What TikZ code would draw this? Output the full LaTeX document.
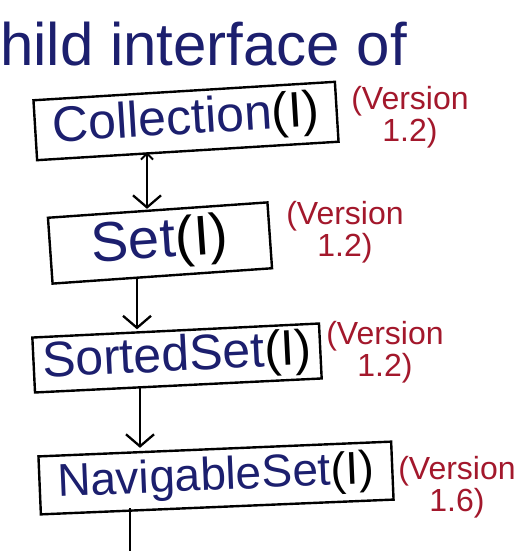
\documentclass[tikz,border=0pt]{standalone}
\usepackage{fontspec}
\setmainfont{Liberation Sans}
\usetikzlibrary{arrows.meta}
\definecolor{ink}{HTML}{1C1F6E}
\definecolor{redink}{HTML}{A3182C}
\begin{document}
\begin{tikzpicture}[x=1pt,y=-1pt,
  ibox/.style={draw=black, line width=2.4pt, inner sep=0pt, text=ink},
  ver/.style={text=redink, align=center, inner sep=0pt, font=\fontsize{32}{32}\selectfont},
  conn/.style={draw=black, line width=2.3pt},
  arr/.style={conn, -{Straight Barb[length=12pt,width=28pt,line width=2.3pt]}},
  darr/.style={conn, {Straight Barb[length=6pt,width=12pt,line width=2pt]}-{Straight Barb[length=12pt,width=28pt,line width=2.3pt]}}]
\useasboundingbox (0,0) rectangle (529,551);
\fill[white] (0,0) rectangle (529,551);

\node[anchor=base west, inner sep=0pt, text=ink, font=\fontsize{60}{64}\selectfont] (title) at (0,66) {hild interface of};

\node[ibox, minimum width=302pt, minimum height=60pt, rotate=3.5, font=\fontsize{50}{54}\selectfont] (coll) at (186,121) {Collection\textcolor{black}{(I)}};
\node[ibox, minimum width=220pt, minimum height=66pt, rotate=4, font=\fontsize{56}{60}\selectfont] (set) at (160,243) {Set\textcolor{black}{(I)}};
\node[ibox, minimum width=287pt, minimum height=55pt, rotate=2.8, font=\fontsize{50}{54}\selectfont] (sorted) at (177,358) {SortedSet\textcolor{black}{(I)}};
\node[ibox, minimum width=353pt, minimum height=58pt, rotate=2.4, font=\fontsize{46}{50}\selectfont] (nav) at (216,478) {NavigableSet\textcolor{black}{(I)}};

\node[ver] (v1) at (410,117) {(Version\\1.2)};
\node[ver] (v2) at (345,232) {(Version\\1.2)};
\node[ver] (v3) at (385,352) {(Version\\1.2)};
\node[ver] (v4) at (457,487) {(Version\\1.6)};

\coordinate (x1) at (147,0);
\coordinate (x2) at (137,0);
\coordinate (x3) at (140,0);
\coordinate (nend) at (130,551);

\draw[darr] (coll.south -| x1) -- (set.north -| x1);
\draw[arr] (set.south -| x2) -- (sorted.north -| x2);
\draw[arr] (sorted.south -| x3) -- (nav.north -| x3);
\draw[conn] (nav.south -| nend) -- (nend);
\end{tikzpicture}
\end{document}
